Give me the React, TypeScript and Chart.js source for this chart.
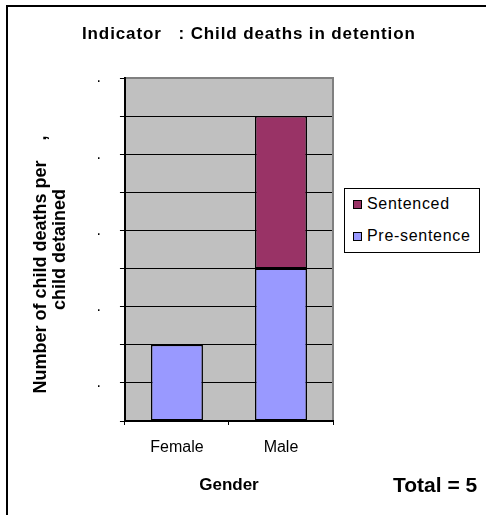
import React, { useEffect, useRef } from "react";
import { Chart, registerables } from "chart.js";

Chart.register(...registerables);

// ---- data ----
const categories = ["Female", "Male"];
const seriesNames = ["Pre-sentence", "Sentenced"];
const preSentence: (number | null)[] = [1, 2];
const sentenced: (number | null)[] = [null, 2];
const yMin = 0;
const yMax = 4.5;
const yStep = 0.5;
// tick values whose labels show (digits are missing in the source, only the "." remains)
const yLabelledTicks = [0.5, 1.5, 2.5, 3.5, 4.5];
const chartTitle = "Indicator   : Child deaths in detention";
const yTitle = ["Number of child deaths per    ,      ", "child detained"];
const xTitle = "Gender";
const totalLabel = "Total = 5";

// ---- styles ----
const FONT = "'Liberation Sans', Arial, sans-serif";
const seriesColors = ["#9999FF", "#993366"];
const PLOT_BG = "#C0C0C0";
const PLOT_EDGE = "#808080";

const plotPlugin = {
  id: "plotArea",
  beforeDraw(chart: any) {
    const { ctx, chartArea } = chart;
    ctx.save();
    ctx.fillStyle = PLOT_BG;
    ctx.fillRect(chartArea.left, chartArea.top, chartArea.right - chartArea.left, chartArea.bottom - chartArea.top);
    ctx.restore();
  },
  afterDraw(chart: any) {
    const { ctx, chartArea } = chart;
    ctx.save();
    ctx.strokeStyle = PLOT_EDGE;
    ctx.lineWidth = 2;
    ctx.beginPath();
    ctx.moveTo(chartArea.left + 1, chartArea.top);
    ctx.lineTo(chartArea.right, chartArea.top);
    ctx.lineTo(chartArea.right, chartArea.bottom - 1);
    ctx.stroke();
    ctx.restore();
  },
};

export default function App() {
  const canvasRef = useRef<HTMLCanvasElement | null>(null);

  useEffect(() => {
    const canvas = canvasRef.current;
    if (!canvas) return;
    const chart = new Chart(canvas, {
      type: "bar",
      data: {
        labels: categories,
        datasets: [
          {
            label: seriesNames[0],
            data: preSentence,
            backgroundColor: seriesColors[0],
            borderColor: "#000000",
            borderWidth: 1.5,
            borderSkipped: false,
            barPercentage: 0.5,
            categoryPercentage: 1,
          },
          {
            label: seriesNames[1],
            data: sentenced,
            backgroundColor: seriesColors[1],
            borderColor: "#000000",
            borderWidth: 1.5,
            borderSkipped: false,
            barPercentage: 0.5,
            categoryPercentage: 1,
          },
        ],
      },
      options: {
        responsive: false,
        animation: false,
        devicePixelRatio: 1,
        layout: { padding: { left: 0, right: 153, top: 78, bottom: 0 } },
        plugins: {
          legend: { display: false },
          title: { display: false },
          tooltip: { enabled: false },
        },
        scales: {
          x: {
            stacked: true,
            offset: true,
            grid: {
              offset: true,
              drawOnChartArea: false,
              drawTicks: true,
              tickLength: 4,
              color: "#000000",
              lineWidth: 1,
            },
            border: { display: true, color: "#000000", width: 2 },
            ticks: {
              color: "#000000",
              padding: 13,
              font: { family: FONT, size: 16 },
              maxRotation: 0,
            },
            title: {
              display: true,
              text: xTitle,
              color: "#000000",
              font: { family: FONT, size: 17, weight: "bold" },
              padding: { top: 4.9, bottom: 19.5 },
            },
          },
          y: {
            stacked: true,
            min: yMin,
            max: yMax,
            grid: {
              drawOnChartArea: true,
              drawTicks: true,
              tickLength: 5,
              color: "#000000",
              lineWidth: 1,
            },
            border: { display: true, color: "#000000", width: 2 },
            ticks: {
              stepSize: yStep,
              autoSkip: false,
              color: "#000000",
              padding: 19,
              font: { family: FONT, size: 16 },
              callback: (value: any) =>
                yLabelledTicks.some((t) => Math.abs(t - Number(value)) < 1e-9) ? "." : "",
            },
            title: {
              display: true,
              text: yTitle,
              color: "#000000",
              font: { family: FONT, size: 18, weight: "bold", lineHeight: 19 / 18 },
              padding: { top: 31.5, bottom: 8 },
            },
          },
        },
      },
      plugins: [plotPlugin],
    } as any);
    return () => chart.destroy();
  }, []);

  const legendOrder = [1, 0];

  return (
    <div
      style={{
        position: "fixed",
        left: 0,
        top: 0,
        width: 486,
        height: 515,
        overflow: "hidden",
        background: "#ffffff",
        fontFamily: FONT,
        color: "#000000",
      }}
    >
      <div
        style={{
          position: "absolute",
          left: 6,
          top: 5,
          width: 490,
          height: 520,
          borderTop: "2px solid #000",
          borderLeft: "2px solid #000",
          boxSizing: "border-box",
        }}
      />
      <canvas
        ref={canvasRef}
        width={486}
        height={515}
        style={{ position: "absolute", left: 0, top: 0, width: 486, height: 515 }}
      />
      <div
        style={{
          position: "absolute",
          left: 82,
          top: 24,
          height: 20,
          lineHeight: "20px",
          fontSize: 17,
          fontWeight: "bold",
          letterSpacing: "0.88px",
          whiteSpace: "pre",
        }}
      >
        {chartTitle}
      </div>
      <div
        style={{
          position: "absolute",
          left: 344,
          top: 188,
          width: 136,
          height: 65,
          border: "1px solid #000",
          boxSizing: "border-box",
          background: "#ffffff",
        }}
      >
        {legendOrder.map((si, i) => (
          <div
            key={seriesNames[si]}
            style={{
              position: "absolute",
              left: 8,
              top: 5 + i * 32,
              height: 20,
              lineHeight: "20px",
              fontSize: 16,
              letterSpacing: "0.7px",
              whiteSpace: "nowrap",
              display: "flex",
              alignItems: "center",
            }}
          >
            <span
              style={{
                display: "inline-block",
                width: 9,
                height: 9,
                boxSizing: "border-box",
                border: "1px solid #000",
                background: seriesColors[si],
                marginRight: 5,
                marginTop: 1,
              }}
            />
            <span>{seriesNames[si]}</span>
          </div>
        ))}
      </div>
      <div
        style={{
          position: "absolute",
          left: 393,
          top: 473,
          height: 24,
          lineHeight: "24px",
          fontSize: 21,
          fontWeight: "bold",
          whiteSpace: "nowrap",
        }}
      >
        {totalLabel}
      </div>
    </div>
  );
}
